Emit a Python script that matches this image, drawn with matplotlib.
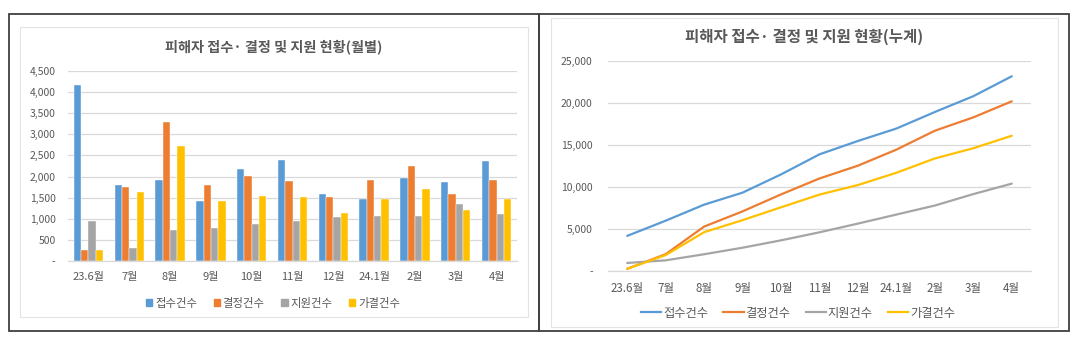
import matplotlib
matplotlib.use("Agg")
import matplotlib.pyplot as plt
from matplotlib.patches import Rectangle
from matplotlib.lines import Line2D
from matplotlib.ticker import FuncFormatter
import numpy as np

plt.rcParams['font.family'] = ['Noto Sans CJK KR', 'DejaVu Sans']

categories = ["23.6월", "7월", "8월", "9월", "10월", "11월", "12월", "24.1월", "2월", "3월", "4월"]
series_names = ["접수건수", "결정건수", "지원건수", "가결건수"]

# monthly values
monthly_receipt = [4180, 1810, 1910, 1430, 2170, 2390, 1590, 1480, 1970, 1880, 2370]
monthly_decision = [260, 1745, 3285, 1810, 2020, 1895, 1525, 1910, 2250, 1590, 1910]
monthly_support = [955, 315, 725, 780, 875, 955, 1040, 1075, 1075, 1360, 1120]
monthly_approved = [260, 1635, 2730, 1430, 1530, 1510, 1140, 1460, 1705, 1215, 1460]

# cumulative values
cum_receipt = [4180, 5990, 7900, 9330, 11500, 13890, 15480, 16960, 18930, 20810, 23180]
cum_decision = [260, 2005, 5290, 7100, 9120, 11015, 12540, 14450, 16700, 18290, 20200]
cum_support = [955, 1270, 1995, 2775, 3650, 4605, 5645, 6720, 7795, 9155, 10400]
cum_approved = [260, 1895, 4625, 6055, 7585, 9095, 10235, 11695, 13400, 14615, 16100]

colors = ["#5B9BD5", "#ED7D31", "#A5A5A5", "#FFC000"]
text_col = "#595959"
grid_col = "#D9D9D9"

W, H = 1080, 343
fig = plt.figure(figsize=(W / 100, H / 100), dpi=100)

def fx(x):
    return x / W

def fy(y):
    return 1 - y / H

# outer frames
for (x0, x1) in [(9, 539), (539, 1069)]:
    fig.add_artist(Rectangle((fx(x0), fy(331)), fx(x1 - x0), (331 - 14) / H,
                             transform=fig.transFigure, fill=False,
                             edgecolor="#404040", linewidth=1.3))
# inner chart-area frames
fig.add_artist(Rectangle((fx(20), fy(317)), fx(528 - 20), (317 - 27) / H,
                         transform=fig.transFigure, fill=False,
                         edgecolor="#E3E3E3", linewidth=0.8))
fig.add_artist(Rectangle((fx(551), fy(327)), fx(1058 - 551), (327 - 18) / H,
                         transform=fig.transFigure, fill=False,
                         edgecolor="#E3E3E3", linewidth=0.8))

def fmt(v, pos):
    if v == 0:
        return "-"
    return "{:,.0f}".format(v)

def style_axes(ax, ypad, xsize):
    for s in ["left", "right", "top"]:
        ax.spines[s].set_visible(False)
    ax.spines["bottom"].set_color(grid_col)
    ax.spines["bottom"].set_linewidth(0.9)
    ax.grid(axis="y", color=grid_col, linewidth=0.9)
    ax.set_axisbelow(True)
    ax.tick_params(axis="both", length=0, colors=text_col, labelsize=7.5)
    ax.tick_params(axis="x", pad=8, labelsize=xsize)
    ax.tick_params(axis="y", pad=ypad)
    ax.yaxis.set_major_formatter(FuncFormatter(fmt))

# ---------- left: monthly bars ----------
ax1 = fig.add_axes([fx(68), fy(261), fx(517 - 68), (261 - 71) / H])
x = np.arange(len(categories))
bw = 0.18
monthly = [monthly_receipt, monthly_decision, monthly_support, monthly_approved]
for i, (vals, c, n) in enumerate(zip(monthly, colors, series_names)):
    ax1.bar(x + (i - 1.5) * bw, vals, width=bw, color=c, label=n,
            edgecolor="white", linewidth=0.3)
ax1.set_xlim(-0.5, len(categories) - 0.5)
ax1.set_ylim(0, 4500)
ax1.set_yticks(np.arange(0, 4501, 500))
ax1.set_xticks(x)
ax1.set_xticklabels(categories)
style_axes(ax1, 9, 8)
fig.text(fx(274), fy(47), "피해자 접수· 결정 및 지원 현황(월별)", ha="center", va="center",
         fontsize=10.2, fontweight="bold", color=text_col)
h1 = [Rectangle((0, 0), 1, 1, color=c) for c in colors]
fig.legend(h1, series_names, loc="center", bbox_to_anchor=(fx(273), fy(303)), ncol=4,
           frameon=False, fontsize=8.2, labelcolor=text_col, handlelength=0.55,
           handleheight=0.55, handletextpad=0.25, columnspacing=1.45)

# ---------- right: cumulative lines ----------
ax2 = fig.add_axes([fx(608), fy(271), fx(1031 - 608), (271 - 61) / H])
cums = [cum_receipt, cum_decision, cum_support, cum_approved]
for vals, c, n in zip(cums, colors, series_names):
    ax2.plot(x, vals, color=c, linewidth=1.6, label=n, solid_capstyle="round")
ax2.set_xlim(-0.5, len(categories) - 0.5)
ax2.set_ylim(0, 25000)
ax2.set_yticks(np.arange(0, 25001, 5000))
ax2.set_xticks(x)
ax2.set_xticklabels(categories)
style_axes(ax2, 11, 8.3)
fig.text(fx(804), fy(37), "피해자 접수· 결정 및 지원 현황(누계)", ha="center", va="center",
         fontsize=11.2, fontweight="bold", color=text_col)
h2 = [Line2D([0], [0], color=c, linewidth=1.6) for c in colors]
fig.legend(h2, series_names, loc="center", bbox_to_anchor=(fx(798), fy(313)), ncol=4,
           frameon=False, fontsize=8.8, labelcolor=text_col, handlelength=1.65,
           handletextpad=0.15, columnspacing=1.25)

fig.savefig("out.png", dpi=100, facecolor="white")
